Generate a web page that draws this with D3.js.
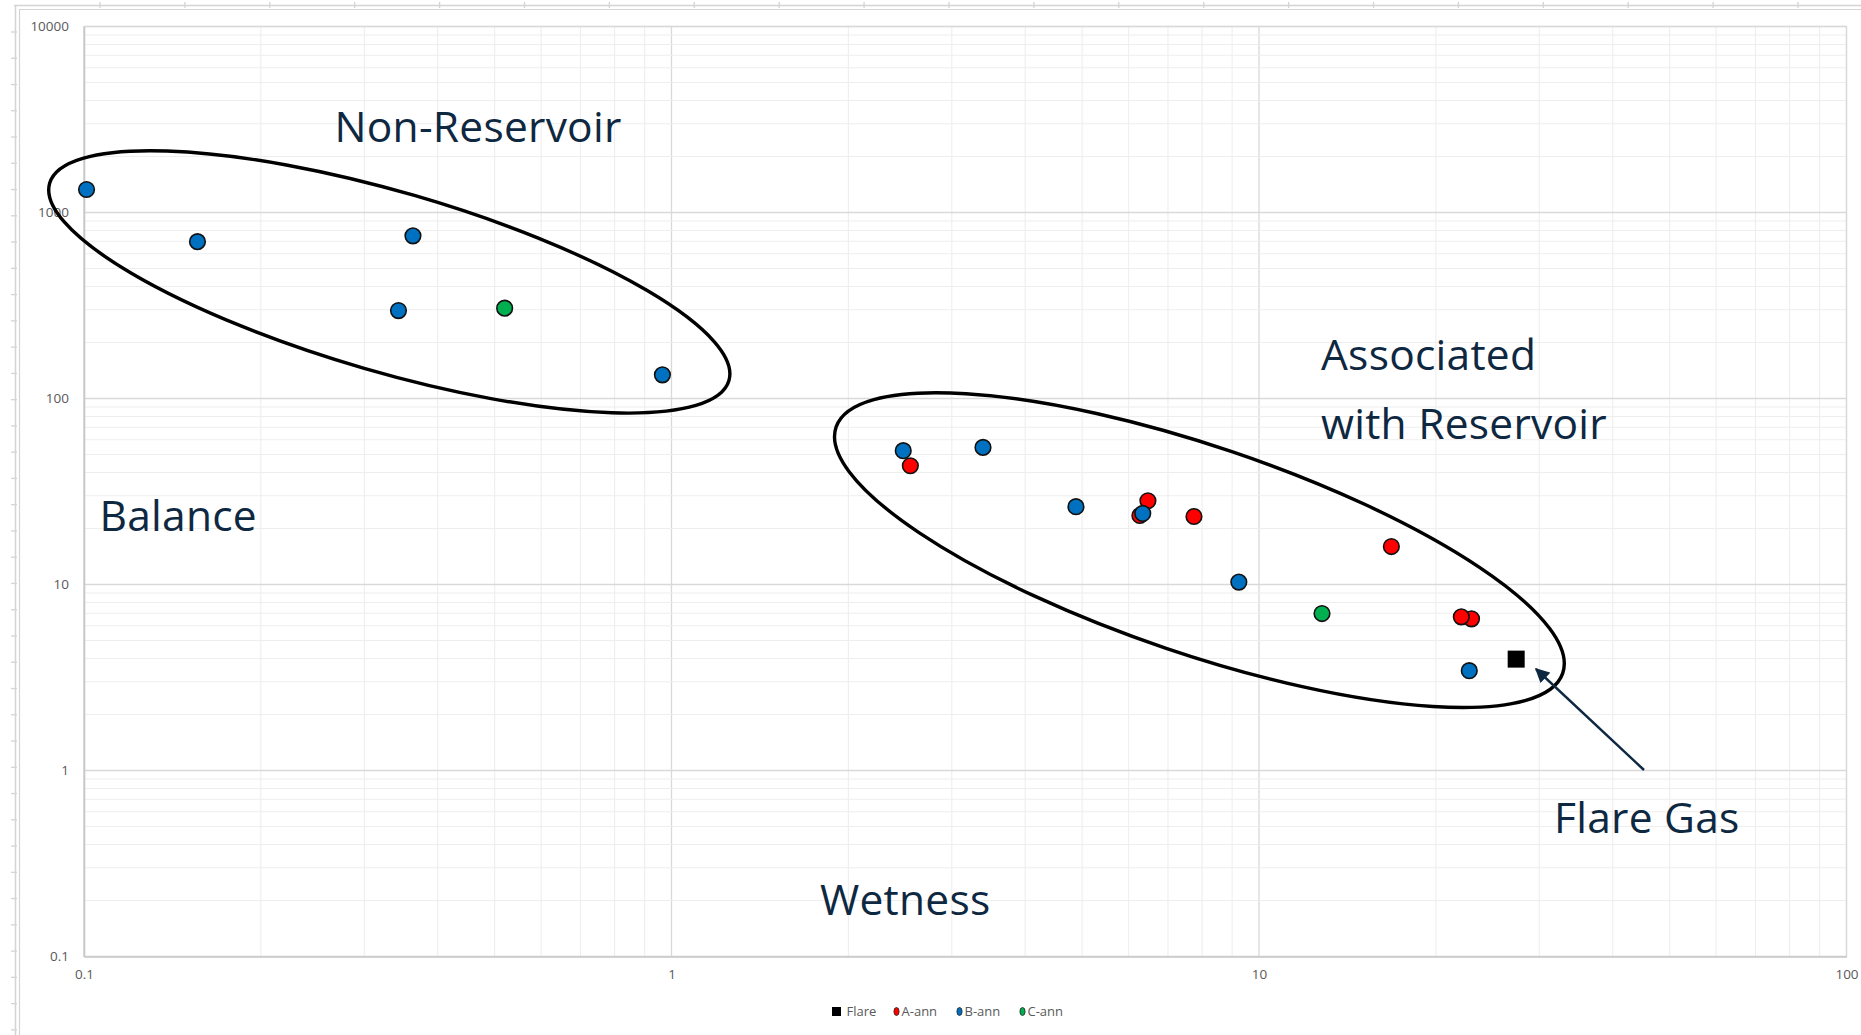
<!DOCTYPE html>
<html>
<head>
<meta charset="utf-8">
<script src="https://cdn.jsdelivr.net/npm/d3@7"></script>
<style>
  html, body { margin: 0; padding: 0; background: #ffffff; }
  svg { display: block; }
</style>
</head>
<body>
<svg id="chart" width="1861" height="1035"></svg>
<script>
// ---- data ----
const xTickValues = [0.1, 1, 10, 100];
const xTickLabels = ["0.1", "1", "10", "100"];
const yTickValues = [0.1, 1, 10, 100, 1000, 10000];
const yTickLabels = ["0.1", "1", "10", "100", "1000", "10000"];

const seriesNames = ["Flare", "A-ann", "B-ann", "C-ann"];

const flareX = [27.4];
const flareY = [3.97];

const aAnnX = [2.55, 6.47, 6.27, 7.75, 16.8, 23.0, 22.1];
const aAnnY = [43.5, 28.2, 23.5, 23.2, 16.0, 6.54, 6.70];

const bAnnX = [0.101, 0.156, 0.363, 0.343, 0.965, 2.48, 3.39, 4.88, 6.34, 9.24, 22.8];
const bAnnY = [1329, 697, 749, 297, 134, 52.4, 54.6, 26.2, 24.1, 10.3, 3.44];

const cAnnX = [0.52, 12.8];
const cAnnY = [306, 6.98];

const annotationTexts = ["Non-Reservoir", "Balance", "Associated", "with Reservoir", "Wetness", "Flare Gas"];

// ---- layout ----
const W = 1861, H = 1035;
const plot = { left: 84, right: 1846.5, top: 26.5, bottom: 956.5 };
const svg = d3.select("#chart");

svg.append("rect").attr("width", W).attr("height", H).attr("fill", "#ffffff");

const x = d3.scaleLog().domain([0.1, 100]).range([plot.left, plot.right]);
const y = d3.scaleLog().domain([0.1, 10000]).range([plot.bottom, plot.top]);

// ---- outer frame with ruler ticks ----
const frame = svg.append("g").attr("stroke", "#d4d4d4").attr("fill", "none");
frame.append("line").attr("x1", 14).attr("x2", W).attr("y1", 5.5).attr("y2", 5.5).attr("stroke-width", 1.5);
frame.append("line").attr("x1", 15.5).attr("x2", 15.5).attr("y1", 5).attr("y2", H).attr("stroke-width", 1.5);
frame.append("line").attr("x1", 19).attr("x2", W).attr("y1", 9.5).attr("y2", 9.5).attr("stroke-width", 1.2);
frame.append("line").attr("x1", 19.5).attr("x2", 19.5).attr("y1", 9).attr("y2", H).attr("stroke-width", 1.2);
frame.selectAll("line.tt").data(d3.range(0, 21)).join("line")
  .attr("x1", k => 100 + 84.9 * k).attr("x2", k => 100 + 84.9 * k)
  .attr("y1", 2).attr("y2", 8).attr("stroke-width", 1.3);
frame.selectAll("line.lt").data(d3.range(0, 39)).join("line")
  .attr("y1", k => 32 + 26.26 * k).attr("y2", k => 32 + 26.26 * k)
  .attr("x1", 11).attr("x2", 17).attr("stroke-width", 1.3);

// ---- gridlines ----
const grid = svg.append("g");
const isMajor = v => Math.abs(Math.log10(v) - Math.round(Math.log10(v))) < 1e-9;
grid.selectAll("line.gx").data(x.ticks()).join("line")
  .attr("x1", d => x(d)).attr("x2", d => x(d))
  .attr("y1", plot.top).attr("y2", plot.bottom)
  .attr("stroke", d => isMajor(d) ? "#d9d9d9" : "#eeeeee")
  .attr("stroke-width", d => isMajor(d) ? 1.3 : 1.1);
grid.selectAll("line.gy").data(y.ticks()).join("line")
  .attr("x1", plot.left).attr("x2", plot.right)
  .attr("y1", d => y(d)).attr("y2", d => y(d))
  .attr("stroke", d => isMajor(d) ? "#d9d9d9" : "#eeeeee")
  .attr("stroke-width", d => isMajor(d) ? 1.3 : 1.1);

// plot area border
svg.append("rect")
  .attr("x", plot.left).attr("y", plot.top)
  .attr("width", plot.right - plot.left).attr("height", plot.bottom - plot.top)
  .attr("fill", "none").attr("stroke", "#d9d9d9").attr("stroke-width", 1.3);

// ---- axes ----
const axisFont = "'Open Sans', sans-serif";
const yAxis = d3.axisLeft(y).tickValues(yTickValues)
  .tickFormat((d, i) => yTickLabels[i]).tickSize(0).tickPadding(15);
const gy = svg.append("g").attr("transform", `translate(${plot.left},0)`).call(yAxis);
const xAxis = d3.axisBottom(x).tickValues(xTickValues)
  .tickFormat((d, i) => xTickLabels[i]).tickSize(0).tickPadding(13);
const gx = svg.append("g").attr("transform", `translate(0,${plot.bottom})`).call(xAxis);
[gx, gy].forEach(g => {
  g.select(".domain").attr("stroke", "#c8c8c8").attr("stroke-width", 1.6);
  g.selectAll("text").attr("fill", "#595959").attr("font-family", axisFont).attr("font-size", 13.5);
});

// ---- group ellipses ----
const ellipses = [
  { cx: 389.3, cy: 281.9, rx: 353.7, ry: 90.0, angle: 16.2 },
  { cx: 1199.4, cy: 550.1, rx: 383.6, ry: 103.7, angle: 18.7 }
];
svg.append("g").selectAll("ellipse").data(ellipses).join("ellipse")
  .attr("cx", 0).attr("cy", 0)
  .attr("rx", d => d.rx).attr("ry", d => d.ry)
  .attr("transform", d => `translate(${d.cx},${d.cy}) rotate(${d.angle})`)
  .attr("fill", "none").attr("stroke", "#000000").attr("stroke-width", 3.4);

// ---- points ----
const zip = (xs, ys) => xs.map((v, i) => ({ x: v, y: ys[i] }));
const pts = svg.append("g");
const circleSeries = [
  { data: zip(aAnnX, aAnnY), color: "#ff0000" },
  { data: zip(bAnnX, bAnnY), color: "#0070c0" },
  { data: zip(cAnnX, cAnnY), color: "#00b050" }
];
circleSeries.forEach(s => {
  pts.append("g").selectAll("circle").data(s.data).join("circle")
    .attr("cx", d => x(d.x)).attr("cy", d => y(d.y)).attr("r", 7.8)
    .attr("fill", s.color).attr("stroke", "#111111").attr("stroke-width", 1.6);
});
const sq = 17;
pts.append("g").selectAll("rect").data(zip(flareX, flareY)).join("rect")
  .attr("x", d => x(d.x) - sq / 2).attr("y", d => y(d.y) - sq / 2)
  .attr("width", sq).attr("height", sq).attr("fill", "#000000");

// ---- annotations ----
const navy = "#0e2841";
const annFont = "'Open Sans', sans-serif";
const annPos = [
  [334.5, 141.7], [99.5, 530.5], [1321, 370], [1321, 438.5], [820, 914.5], [1554, 833]
];
svg.append("g").selectAll("text").data(annotationTexts).join("text")
  .attr("x", (d, i) => annPos[i][0]).attr("y", (d, i) => annPos[i][1])
  .attr("font-family", annFont).attr("font-size", 42.5).attr("letter-spacing", 0.25)
  .attr("fill", navy)
  .text(d => d);

// arrow to the flare point
const defs = svg.append("defs");
defs.append("marker").attr("id", "ah").attr("viewBox", "0 0 10 10")
  .attr("refX", 9).attr("refY", 5).attr("markerWidth", 6).attr("markerHeight", 6)
  .attr("markerUnits", "strokeWidth").attr("orient", "auto")
  .append("path").attr("d", "M0,0 L10,5 L0,10 z").attr("fill", navy);
svg.append("line")
  .attr("x1", 1644).attr("y1", 770).attr("x2", 1536).attr("y2", 669)
  .attr("stroke", navy).attr("stroke-width", 2.4).attr("marker-end", "url(#ah)");

// ---- legend ----
const legend = svg.append("g").attr("font-family", axisFont).attr("font-size", 13).attr("fill", "#595959");
const legendX = [832, 894, 957, 1020];
const legendColors = ["#000000", "#ff0000", "#0070c0", "#00b050"];
const ly = 1011.5;
seriesNames.forEach((name, i) => {
  const lx = legendX[i];
  if (i === 0) {
    legend.append("rect").attr("x", lx).attr("y", ly - 4.5).attr("width", 9).attr("height", 9).attr("fill", "#000000");
  } else {
    legend.append("ellipse").attr("cx", lx + 2.5).attr("cy", ly).attr("rx", 2.6).attr("ry", 4)
      .attr("fill", legendColors[i]).attr("stroke", "#222222").attr("stroke-width", 0.8);
  }
  legend.append("text").attr("x", lx + (i === 0 ? 14.5 : 7.5)).attr("y", ly).attr("dy", "0.35em").text(name);
});
</script>
</body>
</html>
